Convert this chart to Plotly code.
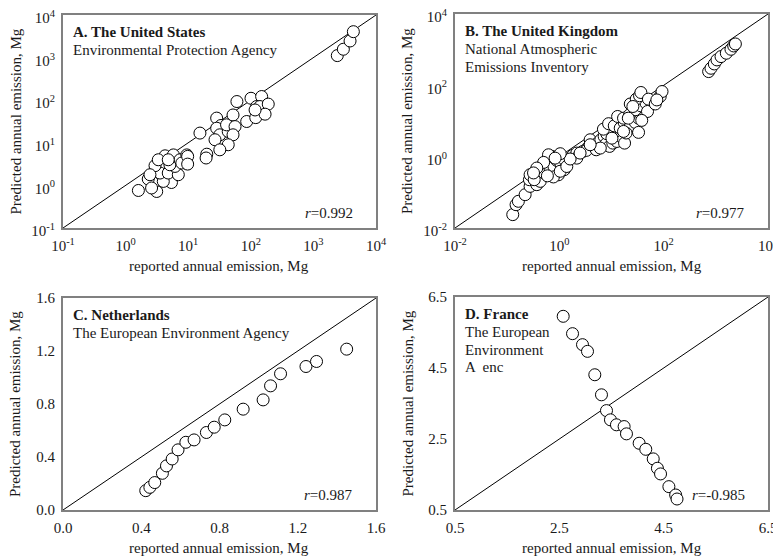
import plotly.graph_objects as go

# ---------------- data ----------------
us_reported = [1.6, 3.14, 5.4, 2.77, 2.3, 4.0, 3.55, 2.95, 2.45, 4.8, 6.95, 6.15, 4.27, 5.8, 5.1, 7.4, 9.5, 9.5, 3.33, 4.8, 2.6,
               7.9, 9.8, 9.8,
               15.4, 19.8, 19.3, 28.5, 33.4, 28.5, 32, 26.8, 43.6, 41, 52, 56, 52, 43.6, 32, 60, 86, 100.7, 149, 124, 140, 190, 120, 169, 117,
               2410, 3010, 3850, 4350]
us_predicted = [0.76, 0.72, 1.17, 1.14, 1.41, 1.24, 1.95, 2.9, 1.78, 1.95, 1.78, 2.79, 4.95, 5.2, 3.05, 4.0, 5.2, 3.3, 4.0, 4.0, 0.87,
                3.35, 4.8, 3.16,
                16.9, 5.4, 4.4, 38, 25.5, 22, 15.4, 11.8, 18.4, 26.4, 45, 24, 15.4, 9.0, 6.85, 93, 31.6, 111, 122, 71, 71, 81, 39, 47, 59,
                1114, 1570, 2455, 4060]

uk_reported = [0.128, 0.148, 0.164, 0.221, 0.275, 0.267, 0.275, 0.37, 0.43, 0.33, 0.40, 0.46, 0.575, 0.51, 0.665, 0.79, 0.89, 1.07,
               1.24, 1.29, 0.96, 0.77, 0.59, 1.04, 1.39, 1.81, 2.16, 2.82, 3.47, 3.9, 4.65, 5.4, 6.25, 7.24, 7.9, 9.2, 10.6, 12.7,
               15.1, 17.8, 11.8, 9.7, 8.1, 7.0, 8.8, 11.3, 14.7, 17.5, 22.9, 28.5, 33, 41, 13.1, 17, 22.2, 28.5, 36.6, 46, 49, 38,
               33, 19, 22.9, 29.8, 34.5, 36.6, 51, 69, 86, 93, 74, 3.8, 3.3, 5.1, 6.1, 10.2, 17, 21, 25.7, 2.16, 1.61, 0.72, 0.62,
               1.04, 0.83, 0.50, 0.37, 0.32, 3.9, 2.5,
               728, 807, 935, 1052, 1258, 1590, 1950, 2200, 2370]
uk_predicted = [0.0237, 0.045, 0.056, 0.086, 0.147, 0.226, 0.312, 0.164, 0.203, 0.226, 0.43, 0.53, 0.66, 0.35, 0.45, 0.53, 0.79,
                0.63, 0.43, 0.79, 0.31, 0.27, 0.29, 0.39, 0.53, 1.08, 1.26, 1.40, 1.74, 2.98, 1.94, 2.4, 2.98, 3.69, 2.3, 1.94, 2.4,
                2.67, 3.69, 2.4, 5.1, 5.9, 4.4, 5.9, 8.4, 7.3, 6.3, 9.1, 7.0, 9.1, 12, 16.6, 13.4, 12, 14.9, 20.6, 26.6, 31.6, 18.5,
                10.4, 4.8, 4.6, 30, 41, 51, 63, 41, 30, 49, 67, 39, 1.94, 1.5, 1.56, 1.74, 3.3, 5.1, 12, 25.5, 0.91, 0.86, 1.02,
                1.13, 1.21, 0.91, 0.69, 0.48, 0.35, 2.16, 1.26,
                243, 301, 398, 516, 640, 795, 1026, 1270, 1445]

nl_reported = [0.423, 0.444, 0.469, 0.508, 0.529, 0.558, 0.588, 0.628, 0.670, 0.733, 0.773, 0.827, 0.921, 1.023, 1.061, 1.112,
               1.242, 1.296, 1.45]
nl_predicted = [0.146, 0.171, 0.207, 0.277, 0.333, 0.385, 0.454, 0.511, 0.529, 0.585, 0.625, 0.680, 0.761, 0.831, 0.937, 1.028,
                1.083, 1.121, 1.214]

fr_reported = [2.574, 2.753, 2.944, 3.04, 3.18, 3.308, 3.404, 3.48, 3.595, 3.742, 3.787, 4.03, 4.157, 4.30, 4.38, 4.44, 4.60,
               4.73, 4.756]
fr_predicted = [5.956, 5.467, 5.157, 4.969, 4.31, 3.745, 3.30, 3.04, 2.90, 2.85, 2.645, 2.38, 2.21, 1.94, 1.676, 1.516, 1.158,
                0.923, 0.81]

log_ticks_a = [0.1, 1, 10, 100, 1000, 10000]
log_text_a = ["10<sup>-1</sup>", "10<sup>0</sup>", "10<sup>1</sup>", "10<sup>2</sup>", "10<sup>3</sup>", "10<sup>4</sup>"]
log_ticks_b = [0.01, 1, 100, 10000]
log_text_b = ["10<sup>-2</sup>", "10<sup>0</sup>", "10<sup>2</sup>", "10<sup>4</sup>"]
lin_ticks_c = [0.0, 0.4, 0.8, 1.2, 1.6]
lin_ticks_d = [0.5, 2.5, 4.5, 6.5]

panels = [
    dict(x=us_reported, y=us_predicted, diag=[0.1, 10000], kind="log", rng=[-1, 4], tv=log_ticks_a, tt=log_text_a,
         title="A. The United States", sub=["Environmental Protection Agency"], r="0.992", yshift=3),
    dict(x=uk_reported, y=uk_predicted, diag=[0.01, 10000], kind="log", rng=[-2, 4], tv=log_ticks_b, tt=log_text_b,
         title="B. The United Kingdom", sub=["National Atmospheric", "Emissions Inventory"], r="0.977", yshift=3),
    dict(x=nl_reported, y=nl_predicted, diag=[0.0, 1.6], kind="linear", rng=[0, 1.6], tv=lin_ticks_c,
         tt=["%.1f" % v for v in lin_ticks_c],
         title="C. Netherlands", sub=["The European Environment Agency"], r="0.987", yshift=0),
    dict(x=fr_reported, y=fr_predicted, diag=[0.5, 6.5], kind="linear", rng=[0.5, 6.5], tv=lin_ticks_d,
         tt=["%.1f" % v for v in lin_ticks_d],
         title="D. France", sub=["The European", "Environment", "A  enc"], r="-0.985", yshift=0),
]

OFF = 8  # page body margin
W, H = 781 - OFF, 559 - OFF
# pixel boxes in page coordinates (left, right, top, bottom)
boxes = [(63, 376, 15, 228), (455, 768, 14, 228), (63, 376, 298, 510), (455, 768, 297, 510)]

FONT = "Liberation Serif"
TXT = "#1a1a1a"
fig = go.Figure()
annotations = []


def px(xp):
    return (xp - OFF) / W


def py(yp):
    return 1 - (yp - OFF) / H


for i, (p, b) in enumerate(zip(panels, boxes)):
    n = "" if i == 0 else str(i + 1)
    xa, ya = "x" + n, "y" + n
    fig.add_trace(go.Scatter(x=p["diag"], y=p["diag"], mode="lines", line=dict(color="black", width=1),
                             xaxis=xa, yaxis=ya, showlegend=False, hoverinfo="skip"))
    fig.add_trace(go.Scatter(x=p["x"], y=p["y"], mode="markers",
                             marker=dict(size=12, color="white", line=dict(color="black", width=1)),
                             xaxis=xa, yaxis=ya, showlegend=False, cliponaxis=False))
    l, r, t, bt = b
    dx = [px(l), px(r)]
    dy = [py(bt), py(t)]
    ax_common = dict(type=p["kind"], range=p["rng"], tickvals=p["tv"], ticktext=p["tt"], showgrid=False,
                     zeroline=False, showline=True, linecolor="#808080", linewidth=2, mirror=True, ticks="",
                     automargin=False, ticklabeloverflow="allow",
                     tickfont=dict(family=FONT, size=15, color=TXT))
    fig.update_layout(**{
        "xaxis" + n: dict(domain=dx, anchor=ya, ticklabelstandoff=3, **ax_common),
        "yaxis" + n: dict(domain=dy, anchor=xa, ticklabelstandoff=3, ticklabelshift=p["yshift"], **ax_common),
    })
    # axis titles
    annotations.append(dict(text="reported annual emission, Mg", x=px((l + r) / 2), y=py(bt + 38),
                            xref="paper", yref="paper", showarrow=False, xanchor="center", yanchor="middle",
                            font=dict(family=FONT, size=15, color=TXT)))
    annotations.append(dict(text="Predicted annual emission, Mg", x=px(l - 48), y=py((t + bt) / 2),
                            xref="paper", yref="paper", showarrow=False, xanchor="center", yanchor="middle",
                            textangle=-90, font=dict(family=FONT, size=15, color=TXT)))
    # panel title & subtitle lines
    annotations.append(dict(text="<b>" + p["title"] + "</b>", x=px(l + 8), y=py(t + 17),
                            xref="paper", yref="paper", showarrow=False, xanchor="left", yanchor="middle",
                            font=dict(family=FONT, size=15, color=TXT)))
    for k, s in enumerate(p["sub"]):
        annotations.append(dict(text=s, x=px(l + 8), y=py(t + 35 + 17.5 * k),
                                xref="paper", yref="paper", showarrow=False, xanchor="left", yanchor="middle",
                                font=dict(family=FONT, size=15, color=TXT)))
    annotations.append(dict(text="<i>r</i>=" + p["r"], x=px(r - 21), y=py(bt - 15),
                            xref="paper", yref="paper", showarrow=False, xanchor="right", yanchor="middle",
                            font=dict(family=FONT, size=15, color=TXT)))

fig.update_layout(width=W, height=H, margin=dict(l=0, r=0, t=0, b=0), plot_bgcolor="white",
                  paper_bgcolor="white", annotations=annotations, hovermode=False)

fig.write_html("out.html")
